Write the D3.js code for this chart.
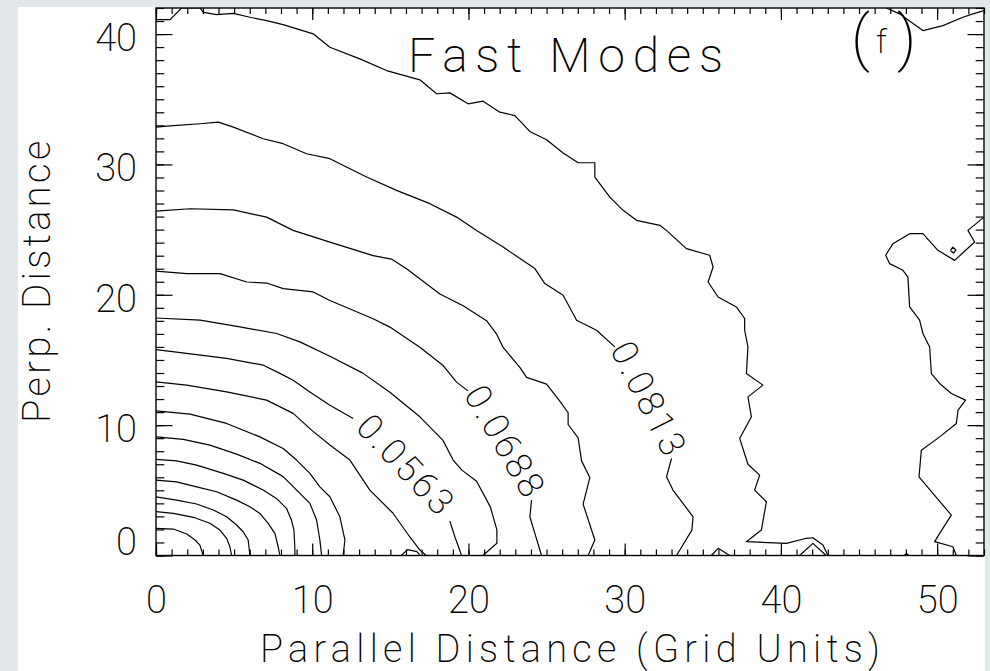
<!DOCTYPE html>
<html>
<head>
<meta charset="utf-8">
<script src="https://cdn.jsdelivr.net/npm/d3@7"></script>
<style>
  html, body { margin: 0; padding: 0; background: #e2e7ea; }
  svg { display: block; }
  text { font-family: "Roboto", "Lato", "DejaVu Sans", sans-serif; font-weight: 200; fill: #000; }
</style>
</head>
<body>
<svg id="chart" width="990" height="671"></svg>
<script>
// Axis extents and ticks (grid units)
const xExtent = [0, 53];
const yExtent = [0, 42];
const xTicks = [0, 10, 20, 30, 40, 50];
const yTicks = [0, 10, 20, 30, 40];

// Contour levels of the fast-mode structure function
const levels = [0.0063, 0.0125, 0.0188, 0.0250, 0.0313, 0.0375, 0.0438,
                0.0500, 0.0563, 0.0625, 0.0688, 0.0750, 0.0813, 0.0875];
const labeledLevels = [0.0563, 0.0688, 0.0813];

// Each level: list of traced polylines [parallel, perp]
const lvl0063 = [[[0,2.08],[1.11,2.03],[1.97,1.65],[2.5,1.19],[2.81,0.8],[3.02,0]]];
const lvl0125 = [[[0,3.36],[1.11,3.23],[2.39,2.93],[3.45,2.47],[4.09,1.95],[4.52,1.32],[4.73,0.67],[4.84,0]]];
const lvl0188 = [[[0,4.5],[1.32,4.25],[2.6,3.95],[3.67,3.49],[4.52,2.97],[5.16,2.34],[5.58,1.82],[5.9,1.19],[6.01,0]]];
const lvl0250 = [[[0,5.79],[1.32,5.65],[2.6,5.27],[3.88,4.89],[5.16,4.25],[6.01,3.74],[6.65,3.23],[7.18,2.47],[7.61,1.7],[7.82,0.67],[7.93,0]]];
const lvl0313 = [[[0,7.37],[1.32,7.26],[2.6,6.93],[4.31,6.3],[5.58,5.78],[6.86,5.02],[7.71,4.38],[8.35,3.62],[8.67,2.72],[8.83,1.95],[8.89,0.55],[8.89,0]]];
const lvl0375 = [[[0,9.1],[1.75,8.91],[3.45,8.47],[5.16,7.78],[6.65,7.07],[8.14,6.05],[9.21,4.77],[9.85,4.0],[10.28,2.72],[10.49,1.19],[10.6,0]]];
const lvl0438 = [[[0,11.1],[2.18,10.84],[4.52,10.13],[6.65,9.1],[8.14,8.21],[9.0,7.32],[9.85,6.3],[10.49,5.27],[11.13,4.51],[11.77,2.97],[12.09,1.19],[11.98,0]]];
const lvl0500 = [
  [[0,13.32],[1.96,13.07],[4.52,12.55],[7.08,11.92],[8.78,10.9],[9.96,9.62],[11.13,8.47],[12.41,7.32],[13.69,5.02],[15.16,3.26],[16.25,1.42],[16.89,0.42],[17.3,0]],
  [[15.7,0],[16.1,0.45],[16.7,0.3],[16.9,0]]
];
const lvl0563 = [
  [[0,15.8],[1.96,15.5],[4.52,15.12],[6.87,14.6],[7.93,13.97],[8.78,13.45],[9.85,12.55],[11.13,11.53],[12.62,10.51]],
  [[18.81,2.64],[19.13,1.44],[19.56,0]]
];
const lvl0625 = [[[0,18.22],[2.82,18.05],[5.37,17.54],[7.72,17.03],[9.21,16.39],[11.13,15.29],[13.24,13.99],[14.97,12.53],[16.89,10.64],[18.36,8.85],[19.02,7.32],[19.58,6.55],[20.52,5.7],[21.4,3.73],[21.82,1.97],[21.82,0.94],[20.92,0]]];
const lvl0688 = [
  [[0,21.82],[1.96,21.62],[4.1,21.62],[5.81,20.98],[7.08,20.9],[8.15,20.47],[10.06,20.22],[11.13,19.56],[13.9,18.16],[14.97,17.52],[16.89,15.98],[18.38,14.57],[19.24,13.3],[19.97,12.63]],
  [[24.04,4.25],[23.93,2.97],[24.25,1.7],[24.68,0]]
];
const lvl0750 = [[[0,26.42],[2.18,26.6],[4.95,26.52],[7.08,25.96],[8.78,24.94],[11.13,24.04],[13.9,23.0],[15.07,22.74],[16.06,21.98],[18.17,20.06],[19.66,19.16],[21.16,18.01],[21.8,16.99],[22.22,15.96],[23.29,14.43],[23.72,13.66],[25.0,13.15],[25.85,11.84],[26.38,10.95],[26.38,10.05],[27.02,9.03],[27.24,7.26],[27.77,5.98],[27.34,3.94],[28.09,1.19],[27.66,0]]];
const lvl0813 = [
  [[0,32.86],[1.11,32.98],[2.82,33.12],[3.99,33.24],[4.95,32.86],[6.86,31.97],[8.14,31.59],[9.64,30.82],[11.13,30.44],[13.48,29.03],[15.4,28.01],[17.53,26.99],[19.24,25.96],[20.52,24.94],[22.22,23.66],[24.25,22.01],[24.89,20.86],[26.06,19.96],[26.92,18.05],[28.2,17.28],[29.37,16.0]],
  [[33.0,7.45],[32.68,6.04],[33.09,5.02],[34.38,2.97],[34.3,1.95],[33.32,0]],
  [[41.2,0],[42.05,0.93],[42.9,0]]
];
const lvl0875 = [
  [[0,41.11],[0.9,41.11],[1.64,42],[2.82,42],[3.03,41.67],[3.88,41.49],[4.95,41.59],[6.01,41.29],[7.08,41.03],[8.14,40.73],[10.06,40.02],[11.13,38.99],[13.05,38.1],[14.76,37.2],[16.89,36.49],[17.96,35.42],[18.81,35.49],[19.98,34.65],[20.94,34.85],[22.01,34.01],[22.97,33.75],[23.93,32.53],[25.0,31.89],[26.06,30.87],[27.02,30.13],[28.09,30.13],[28.09,29.03],[29.05,27.49],[29.9,26.48],[30.76,25.71],[32.25,25.33],[32.67,24.94],[33.95,23.54],[35.44,23.03],[35.66,22.13],[35.34,20.98],[35.98,19.83],[37.15,19.07],[37.68,18.18],[37.68,17.28],[37.89,16.0],[37.79,13.96],[38.85,13.07],[37.89,12.17],[38.11,10.64],[37.36,8.98],[37.89,7.0],[38.64,6.17],[38.32,5.02],[39.07,4.12],[38.75,1.95],[37.79,1.06],[40.35,0.93],[41.63,1.32],[42.05,1.36],[42.69,0.8],[43.01,0]],
  [[46.75,42],[47.6,41.55],[48.03,41.18],[49.09,40.27],[50.37,40.65],[51.65,41.29],[52.29,41.55],[53,41.8]],
  [[53,25.96],[51.97,24.94],[52.4,24.05],[51.12,22.64],[50.05,23.41],[49.09,24.69],[48.24,24.69],[47.17,23.92],[46.71,23.03],[46.96,22.39],[47.81,21.88],[48.13,21.36],[48.24,19.07],[48.88,18.05],[49.09,17.03],[49.52,16.0],[49.63,13.96],[50.16,13.2],[50.91,12.43],[51.82,11.92],[51.34,11.15],[51.23,10.13],[50.16,9.1],[48.99,8.08],[48.84,6.04],[49.73,4.77],[50.91,3.1],[50.16,1.7],[49.84,1.06],[51.01,0.67],[51.23,0]],
  [[50.85,23.4],[51.0,23.65],[51.2,23.45],[51.05,23.2],[50.85,23.4]],
  [[35.55,0],[35.98,0.55],[36.73,0]],
  [[47.9,0],[48.03,0.15],[48.2,0]]
];
const contourSets = [lvl0063, lvl0125, lvl0188, lvl0250, lvl0313, lvl0375, lvl0438,
                     lvl0500, lvl0563, lvl0625, lvl0688, lvl0750, lvl0813, lvl0875];

// ---- layout ----
const svg = d3.select("#chart");
const plot = { left: 156, right: 984, top: 8, bottom: 555.5 };
const x = d3.scaleLinear().domain(xExtent).range([plot.left, plot.right]);
const y = d3.scaleLinear().domain(yExtent).range([plot.bottom, plot.top]);

// white panel behind the figure
svg.append("rect").attr("x", 18).attr("y", 7).attr("width", 967).attr("height", 664).attr("fill", "#ffffff");

svg.append("defs").append("clipPath").attr("id", "plotClip")
  .append("rect").attr("x", plot.left).attr("y", plot.top)
  .attr("width", plot.right - plot.left).attr("height", plot.bottom - plot.top);

// ---- contour lines ----
const line = d3.line().x(d => x(d[0])).y(d => y(d[1]));
const fmt = d3.format(".4f");
const cg = svg.append("g").attr("clip-path", "url(#plotClip)");
contourSets.forEach(pieces => {
  cg.selectAll(null).data(pieces).enter().append("path")
    .attr("d", line)
    .attr("fill", "none")
    .attr("stroke", "#000")
    .attr("stroke-width", 1.2)
    .attr("stroke-linejoin", "round");
});

// labels sit in the break between the first two pieces of a labelled level,
// nudged slightly to the outer side of the line
const lg = svg.append("g");
levels.forEach((lev, i) => {
  if (!labeledLevels.includes(lev)) return;
  const pieces = contourSets[i];
  const a = pieces[0][pieces[0].length - 1], b = pieces[1][0];
  const ax = x(a[0]), ay = y(a[1]), bx = x(b[0]), by = y(b[1]);
  const rad = Math.atan2(by - ay, bx - ax);
  const off = 6;
  const cx = (ax + bx) / 2 + off * Math.sin(rad);
  const cy = (ay + by) / 2 - off * Math.cos(rad);
  lg.append("text")
    .attr("transform", `translate(${cx},${cy}) rotate(${rad * 180 / Math.PI})`)
    .attr("text-anchor", "middle")
    .attr("dominant-baseline", "central")
    .attr("font-size", 36)
    .attr("letter-spacing", 3)
    .text(fmt(lev));
});

// ---- axes: IDL-style box with inward ticks on all four sides ----
const minorX = d3.range(xExtent[0], xExtent[1] + 0.001, 1);
const minorY = d3.range(yExtent[0], yExtent[1] + 0.001, 1);
const styleAxis = g => {
  g.select(".domain").remove();
  g.selectAll(".tick line").attr("stroke", "#000").attr("stroke-width", 1.2);
  g.selectAll("text").attr("font-family", null).attr("font-size", null);
};
const ax = svg.append("g");

ax.append("g").attr("transform", `translate(0,${plot.bottom})`)
  .call(d3.axisBottom(x).tickValues(minorX).tickSize(-6).tickFormat("")).call(styleAxis);
ax.append("g").attr("transform", `translate(0,${plot.bottom})`)
  .call(d3.axisBottom(x).tickValues(xTicks).tickSize(-12).tickPadding(30.5).tickFormat(d3.format("d")))
  .call(styleAxis)
  .call(g => g.selectAll("text").attr("font-size", 38).attr("fill", "#000"));

ax.append("g").attr("transform", `translate(0,${plot.top})`)
  .call(d3.axisTop(x).tickValues(minorX).tickSize(-6).tickFormat("")).call(styleAxis);
ax.append("g").attr("transform", `translate(0,${plot.top})`)
  .call(d3.axisTop(x).tickValues(xTicks).tickSize(-12).tickFormat("")).call(styleAxis);

ax.append("g").attr("transform", `translate(${plot.left},0)`)
  .call(d3.axisLeft(y).tickValues(minorY).tickSize(-8.3).tickFormat("")).call(styleAxis);
ax.append("g").attr("transform", `translate(${plot.left},0)`)
  .call(d3.axisLeft(y).tickValues(yTicks).tickSize(-16.5).tickPadding(19).tickFormat(d3.format("d")))
  .call(styleAxis)
  .call(g => g.selectAll("text").attr("font-size", 38).attr("fill", "#000")
    // the lowest label rests on the x axis rather than centring on its tick
    .attr("dy", d => d === yExtent[0] ? "-0.03em" : "0.43em"));

ax.append("g").attr("transform", `translate(${plot.right},0)`)
  .call(d3.axisRight(y).tickValues(minorY).tickSize(-8.3).tickFormat("")).call(styleAxis);
ax.append("g").attr("transform", `translate(${plot.right},0)`)
  .call(d3.axisRight(y).tickValues(yTicks).tickSize(-16.5).tickFormat("")).call(styleAxis);

svg.append("rect")
  .attr("x", plot.left).attr("y", plot.top)
  .attr("width", plot.right - plot.left).attr("height", plot.bottom - plot.top)
  .attr("fill", "none").attr("stroke", "#000").attr("stroke-width", 1.4);

// ---- titles ----
svg.append("text").attr("x", 408).attr("y", 71.7)
  .attr("font-size", 48).attr("textLength", 315).attr("lengthAdjust", "spacing")
  .text("Fast Modes");

const tag = svg.append("g");
tag.append("text").attr("x", 851).attr("y", 59).attr("font-size", 62).text("(");
tag.append("text").attr("x", 876).attr("y", 53).attr("font-size", 34).text("f");
tag.append("text").attr("x", 897).attr("y", 59).attr("font-size", 62).text(")");

svg.append("text").attr("x", (plot.left + plot.right) / 2).attr("y", 661.5)
  .attr("text-anchor", "middle").attr("font-size", 38)
  .attr("textLength", 620).attr("lengthAdjust", "spacing")
  .text("Parallel Distance (Grid Units)");

svg.append("text")
  .attr("transform", `translate(50,${(plot.top + plot.bottom) / 2}) rotate(-90)`)
  .attr("text-anchor", "middle").attr("font-size", 38)
  .attr("textLength", 282).attr("lengthAdjust", "spacing")
  .text("Perp. Distance");
</script>
</body>
</html>
